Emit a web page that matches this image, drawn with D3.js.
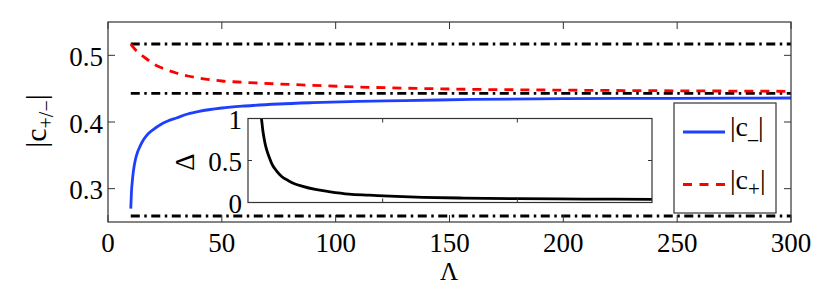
<!DOCTYPE html>
<html><head><meta charset="utf-8">
<script src="https://cdn.jsdelivr.net/npm/d3@7"></script>
<style>
html,body{margin:0;padding:0;background:#fff;}
svg{display:block;}
</style></head>
<body>
<svg id="c" width="830" height="292"></svg>
<script>
// ---- data ----
const lambdaMain = [10,10.3,10.7,11,11.5,12,13,14,15,17,20,23,26,30,35,40,50,60,75,90,110,130,160,200,250,300];
const cMinus = [0.270,0.295,0.312,0.322,0.334,0.343,0.355,0.363,0.370,0.380,0.389,0.396,0.401,0.406,0.412,0.416,0.421,0.424,0.427,0.429,0.431,0.432,0.434,0.435,0.4355,0.436];
const cPlus  = [0.517,0.5155,0.5137,0.5125,0.5105,0.5085,0.505,0.502,0.4995,0.4945,0.487,0.482,0.478,0.4735,0.469,0.466,0.4615,0.4595,0.457,0.455,0.4525,0.4508,0.449,0.4478,0.4468,0.446];
const refLevels = [0.517,0.443,0.259];
const refRange = [10,300];
const lambdaInset = [10,10.5,11,12,13,14,16,18,21,25,30,35,40,50,60,75,90,110,130,160,200,250,300];
const delta = [1.0,0.93,0.86,0.76,0.68,0.62,0.53,0.45,0.38,0.31,0.26,0.22,0.195,0.155,0.13,0.10,0.088,0.072,0.062,0.053,0.046,0.041,0.038];
const xTicks = [0,50,100,150,200,250,300];
const yTicks = [0.3,0.4,0.5];
const insetYTicks = [0,0.5,1];
const insetXTicks = [100,200];
const legendLabels = [{base:"c",sub:"_",name:"minus"},{base:"c",sub:"+",name:"plus"}];

// ---- layout ----
const FONT = "'Liberation Serif'";
const svg = d3.select("#c");
const L=108, R=791, T=22, B=222;
const x = d3.scaleLinear().domain([0,300]).range([L,R]);
const y = d3.scaleLinear().domain([0.25,0.55]).range([B,T]);
const axisCol = "#333";
const fs = 27;
function txt(sel){ return sel.append("text").style("font-family",FONT).attr("fill","#000"); }

// box background
svg.append("rect").attr("x",L).attr("y",T).attr("width",R-L).attr("height",B-T).attr("fill","#fff");

// reference dash-dot lines
refLevels.forEach(v=>{
  svg.append("line").attr("x1",x(refRange[0])).attr("x2",x(refRange[1]))
    .attr("y1",y(v)).attr("y2",y(v)).attr("stroke","#000").attr("stroke-width",2.8)
    .attr("stroke-dasharray","9,4.5,2.5,4.5");
});

// curves
const lineMain = (arr)=>d3.line().x((d,i)=>x(lambdaMain[i])).y(d=>y(d)).curve(d3.curveMonotoneX)(arr);
svg.append("path").attr("d",lineMain(cPlus)).attr("fill","none").attr("stroke","#ff0000")
  .attr("stroke-width",2.8).attr("stroke-dasharray","9,7");
svg.append("path").attr("d",lineMain(cMinus)).attr("fill","none").attr("stroke","#1f3fff")
  .attr("stroke-width",2.8);

// main axes (box with inward ticks)
const g = svg.append("g");
g.append("rect").attr("x",L).attr("y",T).attr("width",R-L).attr("height",B-T)
  .attr("fill","none").attr("stroke",axisCol).attr("stroke-width",1.2);
const tl = 7;
xTicks.forEach(t=>{
  g.append("line").attr("x1",x(t)).attr("x2",x(t)).attr("y1",B).attr("y2",B-tl).attr("stroke",axisCol);
  g.append("line").attr("x1",x(t)).attr("x2",x(t)).attr("y1",T).attr("y2",T+tl).attr("stroke",axisCol);
  txt(g).attr("x",x(t)).attr("y",252).attr("text-anchor","middle").attr("font-size",fs).text(t);
});
yTicks.forEach(t=>{
  g.append("line").attr("x1",L).attr("x2",L+tl).attr("y1",y(t)).attr("y2",y(t)).attr("stroke",axisCol);
  g.append("line").attr("x1",R).attr("x2",R-tl).attr("y1",y(t)).attr("y2",y(t)).attr("stroke",axisCol);
  txt(g).attr("x",103).attr("y",y(t)+10.5).attr("text-anchor","end").attr("font-size",fs).text(d3.format(".1f")(t));
});

// axis labels
txt(svg).attr("x",449).attr("y",280).attr("text-anchor","middle").attr("font-size",25).text("Λ");
const yl = txt(svg).attr("transform","translate(46,121) rotate(-90)").attr("text-anchor","middle").attr("font-size",30);
yl.append("tspan").text("|c");
yl.append("tspan").attr("font-size",20).attr("dy",7).text("+/−");
yl.append("tspan").attr("dy",-7).text("|");

// ---- inset ----
const iL=248, iR=652, iT=118.5, iB=202.5;
const ix = d3.scaleLinear().domain([0,300]).range([iL,iR]);
const iy = d3.scaleLinear().domain([0,1]).range([iB,iT]);
svg.append("rect").attr("x",iL).attr("y",iT).attr("width",iR-iL).attr("height",iB-iT).attr("fill","#fff");
svg.append("path").attr("d",d3.line().x((d,i)=>ix(lambdaInset[i])).y(d=>iy(d)).curve(d3.curveMonotoneX)(delta))
  .attr("fill","none").attr("stroke","#000").attr("stroke-width",2.8);
svg.append("rect").attr("x",iL).attr("y",iT).attr("width",iR-iL).attr("height",iB-iT)
  .attr("fill","none").attr("stroke",axisCol).attr("stroke-width",1.2);
const itl=4;
insetYTicks.forEach(t=>{
  svg.append("line").attr("x1",iL).attr("x2",iL+itl).attr("y1",iy(t)).attr("y2",iy(t)).attr("stroke",axisCol);
  svg.append("line").attr("x1",iR).attr("x2",iR-itl).attr("y1",iy(t)).attr("y2",iy(t)).attr("stroke",axisCol);
  txt(svg).attr("x",242).attr("y",iy(t)+10).attr("text-anchor","end").attr("font-size",fs).text(t);
});
insetXTicks.forEach(t=>{
  svg.append("line").attr("x1",ix(t)).attr("x2",ix(t)).attr("y1",iB).attr("y2",iB-itl).attr("stroke",axisCol);
  svg.append("line").attr("x1",ix(t)).attr("x2",ix(t)).attr("y1",iT).attr("y2",iT+itl).attr("stroke",axisCol);
});
txt(svg).attr("transform","translate(194,162) rotate(-90)").attr("text-anchor","middle").attr("font-size",fs).text("Δ");

// ---- legend ----
const lg = svg.append("g");
lg.append("rect").attr("x",674).attr("y",103).attr("width",102).attr("height",110)
  .attr("fill","#fff").attr("stroke",axisCol).attr("stroke-width",1.2);
lg.append("line").attr("x1",683).attr("x2",725).attr("y1",132).attr("y2",132).attr("stroke","#1f3fff").attr("stroke-width",2.8);
lg.append("line").attr("x1",683).attr("x2",725).attr("y1",184.5).attr("y2",184.5).attr("stroke","#ff0000").attr("stroke-width",2.8).attr("stroke-dasharray","9,7.5");
const t1 = txt(lg).attr("x",730).attr("y",136).attr("font-size",28);
t1.append("tspan").text("|c");
t1.append("tspan").attr("font-size",20).attr("dy",2).text(legendLabels[0].sub);
t1.append("tspan").attr("dy",-2).text("|");
const t2 = txt(lg).attr("x",730).attr("y",189).attr("font-size",28);
t2.append("tspan").text("|c");
t2.append("tspan").attr("font-size",21).attr("dy",7).text(legendLabels[1].sub);
t2.append("tspan").attr("dy",-7).text("|");
</script>
</body></html>
